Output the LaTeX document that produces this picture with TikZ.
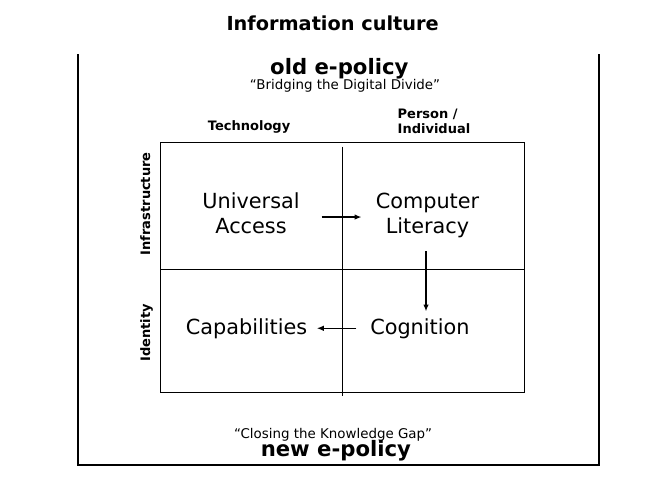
\documentclass[tikz,border=0pt]{standalone}
\usepackage{fontspec}
\setmainfont{DejaVu Sans}
\usepackage{xcolor}
\usepackage{tikz}
\usetikzlibrary{arrows.meta}
\tikzset{
  titletext/.style={font=\fontsize{19.3}{23}\selectfont\bfseries, anchor=base, inner sep=0pt},
  policytext/.style={font=\fontsize{21.2}{25}\selectfont\bfseries, anchor=base, inner sep=0pt},
  quotetext/.style={font=\fontsize{13.4}{16}\selectfont, anchor=base, inner sep=0pt},
  axislabel/.style={font=\fontsize{13}{15}\selectfont\bfseries, anchor=base, inner sep=0pt},
  celltext/.style={font=\fontsize{20.8}{25}\selectfont, align=center, anchor=base, inner sep=0pt},
  gridline/.style={line width=0.8pt, draw=black},
  frameline/.style={line width=1.2pt, draw=black},
  flowarrow/.style={-{Latex[length=7pt,width=5.5pt]}, line width=1.4pt, draw=black},
}
\begin{document}
\begin{tikzpicture}[x=1pt,y=-1pt]
  \useasboundingbox (0,0) rectangle (650,483);

  % Title and outer frame (open at the top)
  \node[titletext] (title) at (332.6,30.7) {Information culture};
  \draw[frameline] (78,54) -- (78,465) -- (599,465) -- (599,54);

  % Old policy heading
  \node[policytext] (oldpol) at (339.3,74.5) {old e-policy};
  \node[quotetext] (oldquote) at (345,89) {“Bridging the Digital Divide”};

  % Column and row headings (multi-line nodes sit on their last baseline)
  \node[axislabel] (tech) at (249.1,130) {Technology};
  \node[axislabel, align=left, anchor=base west] (person) at (397.5,133.3) {Person /\\Individual};
  \node[axislabel, rotate=90] (infra) at (150,203.8) {Infrastructure};
  \node[axislabel, rotate=90] (ident) at (150,332.8) {Identity};

  % The 2x2 grid
  \draw[gridline] (160.5,142.5) rectangle (524.5,392.3);
  \draw[gridline] (160.5,269.3) -- (524.5,269.3);
  \draw[gridline] (342.5,146.7) -- (342.5,396);

  % Cells
  \node[celltext] (ua) at (251,233.3) {Universal\\Access};
  \node[celltext] (cl) at (427.5,233.3) {Computer\\Literacy};
  \node[celltext] (ca) at (246.5,334) {Capabilities};
  \node[celltext] (co) at (419.9,334) {Cognition};

  % Flow between the cells
  \draw[flowarrow, shorten <=21.7pt, shorten >=14pt] ([yshift=-4pt]ua.east) -- ([yshift=-4pt]ua.east -| cl.west);
  \draw[flowarrow, shorten <=13.5pt, shorten >=6.5pt] ([xshift=-1.5pt]cl.south) -- ([xshift=-1.5pt]cl.south |- co.north);
  \draw[flowarrow, shorten <=13.6pt, shorten >=9.4pt] (co.west) -- (co.west -| ca.east);

  % New policy heading
  \node[quotetext] (newquote) at (333.1,438.3) {“Closing the Knowledge Gap”};
  \node[policytext] (newpol) at (335.9,456) {new e-policy};
\end{tikzpicture}
\end{document}
